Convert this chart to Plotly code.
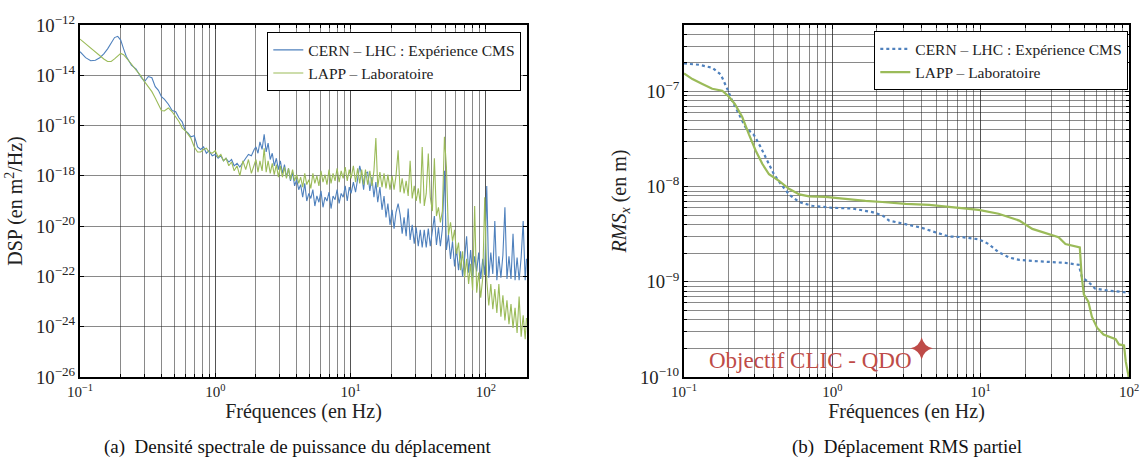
import plotly.graph_objects as go

# ---------------- Data: DSP (left panel) ----------------
freq_dsp = [
    0.10, 0.11, 0.12, 0.13, 0.14, 0.15, 0.16, 0.17, 0.18, 0.19, 0.20, 0.21, 0.22, 0.24, 0.26, 0.28,
    0.30, 0.32, 0.34, 0.36, 0.38, 0.40, 0.42, 0.45, 0.48, 0.51, 0.54, 0.57, 0.60, 0.63, 0.66, 0.70,
    0.74, 0.78, 0.82, 0.86, 0.90, 0.95, 1.0, 1.05, 1.1, 1.15, 1.2, 1.26, 1.32, 1.38, 1.45, 1.52,
    1.6, 1.68, 1.76, 1.85, 1.94,
    2.0, 2.07, 2.14, 2.22, 2.3, 2.38, 2.46, 2.55, 2.64, 2.73,
    2.83, 2.93, 3.03, 3.14, 3.25, 3.36, 3.48, 3.6, 3.73, 3.86,
    4.0, 4.14, 4.28, 4.43, 4.59, 4.75, 4.92, 5.09, 5.27, 5.45,
    5.64, 5.84, 6.05, 6.26, 6.48, 6.7, 6.94, 7.18, 7.43, 7.69,
    7.96, 8.24, 8.53, 8.83, 9.14, 9.46, 9.79, 10.1, 10.5, 10.9,
    11.3, 11.7, 12.1, 12.5, 12.9, 13.4, 13.9, 14.4, 14.9, 15.4,
    15.9, 16.5, 17.1, 17.7, 18.3, 18.9, 19.6, 20.3, 21.0, 21.7,
    22.5, 23.3, 24.1, 24.9, 25.8, 26.7, 27.6, 28.6, 29.6, 30.6,
    31.7, 32.8, 33.9, 35.1, 36.3, 37.6, 38.9, 40.3, 41.7, 43.2,
    44.7, 46.2, 47.8, 49.5, 51.2, 53.0, 54.9, 56.8, 58.8, 60.8,
    62.9, 65.1, 67.4, 69.8, 72.2, 74.7, 77.3, 80.0, 82.8, 85.7,
    88.7, 91.8, 95.0, 98.3, 101.7, 105.3, 109, 112.8, 116.7, 120.8,
    125, 129.4, 133.9, 138.6, 143.5, 148.5, 153.7, 159.1, 164.7, 170.5,
    176.5, 182.7, 189.1, 195.7, 200]

# log10 of DSP (m^2/Hz)
dsp_cern_log10 = [
    -13.06, -13.30, -13.42, -13.40, -13.30, -13.15, -12.95, -12.70, -12.50, -12.45, -12.60, -12.95, -13.25, -13.60, -13.75, -14.05,
    -14.25, -14.05, -14.10, -14.45, -14.60, -14.85, -14.95, -15.15, -15.40, -15.45, -15.70, -15.85, -16.20, -16.30, -16.45, -16.40,
    -16.85, -16.95, -16.85, -17.10, -17.00, -17.20, -17.15, -17.30, -17.20, -17.40, -17.30, -17.45, -17.35, -17.60, -17.50, -17.65,
    -17.45, -17.30, -17.15, -17.20, -16.95,
    -16.85, -17.10, -16.65, -16.95, -16.35, -17.05, -16.70, -17.35, -17.10, -17.60,
    -17.30, -17.75, -17.40, -17.90, -17.55, -18.05, -17.70, -18.20, -17.85, -18.40,
    -18.15, -18.55, -18.35, -18.85, -18.30, -19.00, -18.70, -18.90, -18.55, -19.20,
    -18.80, -19.05, -18.60, -19.25, -18.85, -19.00, -18.65, -19.30, -18.80, -18.95,
    -18.55, -19.10, -18.70, -18.85, -18.40, -19.00, -18.45, -18.70, -18.25, -18.65,
    -18.05, -17.60, -17.95, -18.55, -17.90, -17.85, -18.60, -18.05, -18.85, -18.25,
    -19.05, -18.45, -19.35, -18.80, -19.65, -19.10, -19.95, -19.35, -20.10, -19.45,
    -19.10, -19.55, -20.30, -19.65, -20.40, -19.30, -20.55, -19.95, -20.70, -20.05,
    -20.80, -20.15, -20.85, -20.15, -20.85, -20.10, -20.80, -20.10, -19.60, -20.75,
    -20.05, -20.80, -20.10, -17.80, -20.95, -20.35, -21.30, -20.60, -21.60, -20.90,
    -21.75, -21.00, -22.00, -21.25, -20.40, -21.85, -20.95, -22.05, -21.20, -21.80,
    -21.05, -22.10, -21.30, -21.95, -18.40, -22.05, -21.05, -21.90, -19.80, -22.15,
    -21.20, -22.05, -21.15, -19.25, -22.10, -21.20, -22.10, -20.30, -22.15, -21.25,
    -22.15, -21.25, -19.80, -22.15, -21.30]

dsp_lapp_log10 = [
    -12.56, -12.75, -12.90, -13.05, -13.20, -13.35, -13.45, -13.45, -13.35, -13.22, -13.13, -13.18, -13.30, -13.55, -13.80, -14.00,
    -14.25, -14.45, -14.65, -14.90, -15.15, -15.40, -15.42, -15.30, -15.45, -15.65, -15.85, -16.10, -16.20, -16.35, -16.50, -16.85,
    -17.05, -17.05, -16.95, -16.90, -17.05, -17.10, -17.00, -17.25, -17.15, -17.40, -17.30, -17.60, -17.45, -17.80, -17.60, -18.00,
    -17.40, -17.75, -17.35, -17.90, -17.50,
    -17.35, -17.85, -17.40, -17.80, -16.90, -17.85, -17.40, -17.90, -17.50, -17.95,
    -17.55, -18.05, -17.60, -18.05, -17.65, -18.10, -17.70, -18.15, -17.75, -18.20,
    -17.95, -18.30, -18.05, -18.45, -17.90, -18.35, -18.15, -18.50, -17.90, -18.30,
    -18.00, -18.40, -17.80, -18.25, -17.95, -18.35, -17.75, -18.30, -17.90, -18.20,
    -17.70, -18.25, -17.80, -18.10, -17.65, -18.20, -17.75, -18.10, -17.60, -18.25,
    -17.70, -18.30, -17.75, -18.35, -17.75, -18.35, -17.80, -18.40, -17.80, -16.50,
    -18.45, -17.85, -18.45, -17.90, -18.50, -17.95, -18.55, -18.00, -18.55, -18.00,
    -16.98, -18.65, -18.10, -18.70, -18.20, -18.80, -17.40, -18.90, -18.40, -19.00,
    -18.50, -19.10, -16.85, -19.20, -18.70, -17.11, -18.85, -19.40, -17.30, -19.60,
    -19.25, -19.85, -19.40, -16.45, -17.65, -20.35, -19.85, -20.60, -20.15, -21.10,
    -20.65, -21.75, -21.00, -22.05, -21.30, -22.30, -21.50, -22.55, -19.20, -22.65,
    -21.85, -22.85, -22.05, -18.85, -22.15, -23.15, -22.30, -23.30, -22.50, -23.45,
    -22.30, -23.60, -22.75, -23.75, -22.95, -23.90, -23.10, -24.05, -23.25, -24.25,
    -22.80, -24.40, -23.55, -24.50, -23.65]

# ---------------- Data: partial RMS (right panel) ----------------
freq_rms_cern = [0.10, 0.126, 0.155, 0.177, 0.196, 0.212, 0.235, 0.26, 0.296, 0.329, 0.365, 0.404, 0.449, 0.51,
                 0.596, 0.73, 1.0, 1.36, 1.86, 2.17, 2.42, 3.0, 4.0, 5.0, 6.1, 7.5, 9.7, 11.3, 13.2, 15.6,
                 18.2, 22.3, 28.8, 37.3, 45.8, 48.2, 53.2, 59.0, 72.3, 98, 100]
rms_cern = [1.97e-7, 1.91e-7, 1.78e-7, 1.51e-7, 1.06e-7, 7.9e-8, 5.75e-8, 4.2e-8, 3.5e-8, 2.6e-8, 1.86e-8, 1.35e-8,
            1.07e-8, 8.3e-9, 6.9e-9, 6.3e-9, 6.0e-9, 5.9e-9, 5.4e-9, 5.0e-9, 4.4e-9, 4.1e-9, 3.7e-9, 3.3e-9,
            3.0e-9, 2.95e-9, 2.8e-9, 2.5e-9, 2.05e-9, 1.8e-9, 1.7e-9, 1.66e-9, 1.62e-9, 1.58e-9, 1.51e-9,
            1.12e-9, 1.0e-9, 8.5e-10, 8.1e-10, 7.8e-10, 7.7e-10]

freq_rms_lapp = [0.10, 0.114, 0.133, 0.155, 0.181, 0.20, 0.22, 0.247, 0.274, 0.304, 0.337, 0.374, 0.437, 0.51,
                 0.60, 0.697, 0.90, 1.23, 1.67, 2.17, 3.12, 4.5, 6.1, 9.7, 13.2, 18.2, 22.3, 28.8, 33.5,
                 37.3, 41.5, 46.6, 47.9, 49.6, 53.2, 56.2, 60.9, 67.3, 81.3, 85.5, 92.6, 95.1, 99, 100]
rms_lapp = [1.55e-7, 1.35e-7, 1.2e-7, 1.07e-7, 1.02e-7, 8.9e-8, 7.4e-8, 5.4e-8, 3.55e-8, 2.4e-8, 1.74e-8, 1.35e-8,
            1.15e-8, 9.5e-9, 8.3e-9, 7.9e-9, 7.8e-9, 7.4e-9, 7.1e-9, 6.9e-9, 6.6e-9, 6.45e-9, 6.1e-9, 5.7e-9,
            5.2e-9, 4.4e-9, 3.6e-9, 3.2e-9, 2.95e-9, 2.5e-9, 2.4e-9, 2.3e-9, 1.17e-9, 7.4e-10, 6.2e-10,
            4.3e-10, 3.3e-10, 2.8e-10, 2.5e-10, 2.2e-10, 2.15e-10, 1.45e-10, 1.05e-10, 9e-11]

target_freq = [4.0]
target_rms = [2.0e-10]
target_label = "Objectif CLIC - QDO"

series_names = ["CERN – LHC : Expérience CMS", "LAPP – Laboratoire"]
captions = ["(a)  Densité spectrale de puissance du déplacement", "(b)  Déplacement RMS partiel"]

x_tickvals = [0.1, 1, 10, 100]
x_ticktext = ["10<sup>−1</sup>", "10<sup>0</sup>", "10<sup>1</sup>", "10<sup>2</sup>"]

# ---------------- Styles ----------------
BLUE = "#4F81BD"
GREEN = "#9BBB59"
RED = "#BE4B48"
FONT = "Liberation Serif"
GRID = "rgba(40,40,40,0.55)"

fig = go.Figure()

fig.add_trace(go.Scatter(x=freq_dsp, y=[10 ** v for v in dsp_cern_log10], mode="lines",
                         line=dict(color=BLUE, width=1.1), name=series_names[0],
                         xaxis="x", yaxis="y", legend="legend"))
fig.add_trace(go.Scatter(x=freq_dsp, y=[10 ** v for v in dsp_lapp_log10], mode="lines",
                         line=dict(color=GREEN, width=1.1), name=series_names[1],
                         xaxis="x", yaxis="y", legend="legend"))

fig.add_trace(go.Scatter(x=freq_rms_cern, y=rms_cern, mode="lines",
                         line=dict(color=BLUE, width=2.2, dash="dot"), name=series_names[0],
                         xaxis="x2", yaxis="y2", legend="legend2"))
fig.add_trace(go.Scatter(x=freq_rms_lapp, y=rms_lapp, mode="lines",
                         line=dict(color=GREEN, width=2.2), name=series_names[1],
                         xaxis="x2", yaxis="y2", legend="legend2"))
fig.add_trace(go.Scatter(x=target_freq, y=target_rms, mode="markers",
                         marker=dict(symbol="star-diamond", size=16, color=RED, line=dict(width=0)),
                         showlegend=False, xaxis="x2", yaxis="y2"))

W, H = 1143, 464
ydom = [(H - 377) / H, (H - 25) / H]

common_axis = dict(type="log", showline=True, linecolor="black", linewidth=1.6, mirror="ticks",
                   ticks="inside", ticklen=4, tickcolor="black", showgrid=True, gridcolor=GRID,
                   gridwidth=1, zeroline=False, exponentformat="power", automargin=False,
                   tickfont=dict(family=FONT, size=15, color="#222"))
minor_grid = dict(dtick="D1", showgrid=True, gridcolor=GRID, gridwidth=1, ticks="inside",
                  ticklen=3, tickcolor="black")

fig.update_layout(
    width=W, height=H, margin=dict(l=0, r=0, t=0, b=0),
    paper_bgcolor="white", plot_bgcolor="white",
    font=dict(family=FONT, color="#222"),
    xaxis=dict(common_axis, domain=[80 / W, 527 / W], range=[-1, 2.305],
               tickvals=x_tickvals, ticktext=x_ticktext, minor=minor_grid, anchor="y",
               title=dict(text="Fréquences (en Hz)", font=dict(family=FONT, size=20), standoff=0)),
    yaxis=dict(common_axis, domain=ydom, range=[-26, -12], dtick=2, anchor="x",
               title=dict(text="DSP (en m<sup>2</sup>/Hz)", font=dict(family=FONT, size=20), standoff=8)),
    xaxis2=dict(common_axis, domain=[684 / W, 1129 / W], range=[-1, 2],
                tickvals=x_tickvals, ticktext=x_ticktext, minor=minor_grid, anchor="y2",
                title=dict(text="Fréquences (en Hz)", font=dict(family=FONT, size=20), standoff=0)),
    yaxis2=dict(common_axis, domain=ydom, range=[-10, -6.301], dtick=1, anchor="x2",
                minor=minor_grid,
                title=dict(text="<i>RMS</i><sub><i>x</i></sub> (en m)", font=dict(family=FONT, size=20),
                           standoff=8)),
    legend=dict(x=521 / W, y=(H - 32) / H, xanchor="right", yanchor="top", bgcolor="white",
                bordercolor="black", borderwidth=1.3, font=dict(family=FONT, size=15.5),
                tracegroupgap=0, itemwidth=30),
    legend2=dict(x=1128 / W, y=(H - 31) / H, xanchor="right", yanchor="top", bgcolor="white",
                 bordercolor="black", borderwidth=1.3, font=dict(family=FONT, size=15.5),
                 tracegroupgap=0, itemwidth=30),
    showlegend=True,
    annotations=[
        dict(x=0.602, y=-9.699, xref="x2", yref="y2", text=target_label, showarrow=False,
             xanchor="right", yanchor="middle", xshift=-8, yshift=-12,
             font=dict(family=FONT, size=23, color=RED)),
        dict(x=297 / W, y=(H - 447) / H, xref="paper", yref="paper", text=captions[0], showarrow=False,
             xanchor="center", yanchor="middle", font=dict(family=FONT, size=19, color="#111")),
        dict(x=907 / W, y=(H - 447) / H, xref="paper", yref="paper", text=captions[1], showarrow=False,
             xanchor="center", yanchor="middle", font=dict(family=FONT, size=19, color="#111")),
    ],
)

fig.write_html("out.html", config={"displayModeBar": False},
               post_script="document.body.style.margin='0';document.body.style.padding='0';"
                           "document.documentElement.style.overflow='hidden';")
